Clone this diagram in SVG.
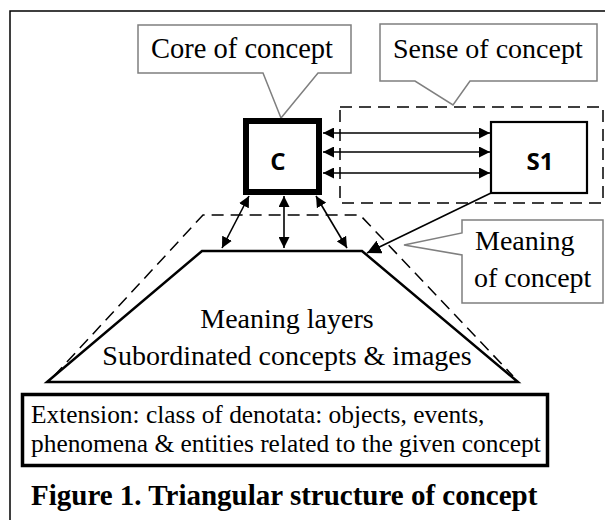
<svg xmlns="http://www.w3.org/2000/svg" width="605" height="520" viewBox="0 0 605 520">
<defs>
<style>
.serif{font-family:"Liberation Serif","Times New Roman",serif;fill:#000}
.callout{fill:#fff;stroke:#7f7f7f;stroke-width:1.5;stroke-linejoin:miter}
.dash{fill:none;stroke:#000;stroke-width:1.5;stroke-dasharray:12,7}
.conn{fill:none;stroke:#000;stroke-width:1.6}
.bold{font-family:"Open Sans","Liberation Sans",Arial,sans-serif;font-weight:bold;fill:#000}
</style>
<marker id="ah" viewBox="0 0 10 10" refX="10" refY="5" markerWidth="11" markerHeight="11" markerUnits="userSpaceOnUse" orient="auto-start-reverse">
<path d="M0,0 L10,5 L0,10 Z" fill="#000"/>
</marker>
<marker id="ahb" viewBox="0 0 10 10" refX="10" refY="5" markerWidth="14" markerHeight="14" markerUnits="userSpaceOnUse" orient="auto">
<path d="M0,0 L10,5 L0,10 Z" fill="#000"/>
</marker>
</defs>
<rect x="0" y="0" width="605" height="520" fill="#fff"/>
<rect id="frame" x="10" y="11" width="640" height="560" fill="none" stroke="#000" stroke-width="1.5"/>

<g id="core-callout">
<path class="callout" d="M138,25 H351 V73 H318 L281,118 L263,73 H138 Z"/>
<text class="serif" x="151" y="58" font-size="28.5">Core of concept</text>
</g>
<g id="sense-callout">
<path class="callout" d="M380,24 H597 V81 H470 L453,105 L415,81 H380 Z"/>
<text class="serif" x="393" y="58" font-size="28">Sense of concept</text>
</g>

<g id="sense-region">
<rect class="dash" x="340" y="107" width="263" height="96"/>
</g>

<g id="meaning-region">
<path class="dash" d="M54,376 L203,215 H360 L513,376"/>
</g>

<g id="meaning-layers">
<path d="M202,251 H362 L518,382 H47 Z" fill="none" stroke="#000" stroke-width="2.5" stroke-linejoin="miter"/>
<text class="serif" x="287" y="328" font-size="28" text-anchor="middle">Meaning layers</text>
<text class="serif" x="287" y="365" font-size="28" text-anchor="middle">Subordinated concepts &amp; images</text>
</g>

<g id="C">
<rect x="246" y="121" width="73" height="71" fill="#fff" stroke="#000" stroke-width="6"/>
<text class="bold" x="278" y="170" font-size="24" text-anchor="middle">C</text>
</g>

<g id="S1">
<rect x="491" y="122" width="96" height="71" fill="#fff" stroke="#000" stroke-width="2.2"/>
<text class="bold" x="540" y="170" font-size="24" text-anchor="middle">S1</text>
</g>

<g id="meaning-callout">
<path class="callout" d="M462,220 H603 V303 H462 V255 L404,245 L462,233 Z"/>
<text class="serif" x="475" y="250" font-size="28">Meaning</text>
<text class="serif" x="474" y="287" font-size="28">of concept</text>
</g>

<g id="connectors">
<line class="conn" x1="323" y1="133" x2="490" y2="133" marker-start="url(#ah)" marker-end="url(#ah)"/>
<line class="conn" x1="323" y1="152" x2="490" y2="152" marker-start="url(#ah)" marker-end="url(#ah)"/>
<line class="conn" x1="323" y1="173" x2="490" y2="173" marker-start="url(#ah)" marker-end="url(#ah)"/>
<line class="conn" x1="249" y1="196" x2="222" y2="248" marker-start="url(#ah)" marker-end="url(#ah)"/>
<line class="conn" x1="284" y1="196" x2="284" y2="248" marker-start="url(#ah)" marker-end="url(#ah)"/>
<line class="conn" x1="316" y1="196" x2="347" y2="248" marker-start="url(#ah)" marker-end="url(#ah)"/>
<line class="conn" x1="491" y1="193" x2="367" y2="253" marker-end="url(#ahb)"/>
</g>

<g id="extension">
<rect x="22.5" y="394.5" width="525" height="71" fill="#fff" stroke="#000" stroke-width="3.5"/>
<text class="serif" x="31" y="423" font-size="25.4">Extension: class of denotata: objects, events,</text>
<text class="serif" x="31" y="452" font-size="25.4">phenomena &amp; entities related to the given concept</text>
</g>

<text id="caption" class="serif" x="31" y="505" font-size="29" font-weight="bold">Figure 1. Triangular structure of concept</text>
</svg>
